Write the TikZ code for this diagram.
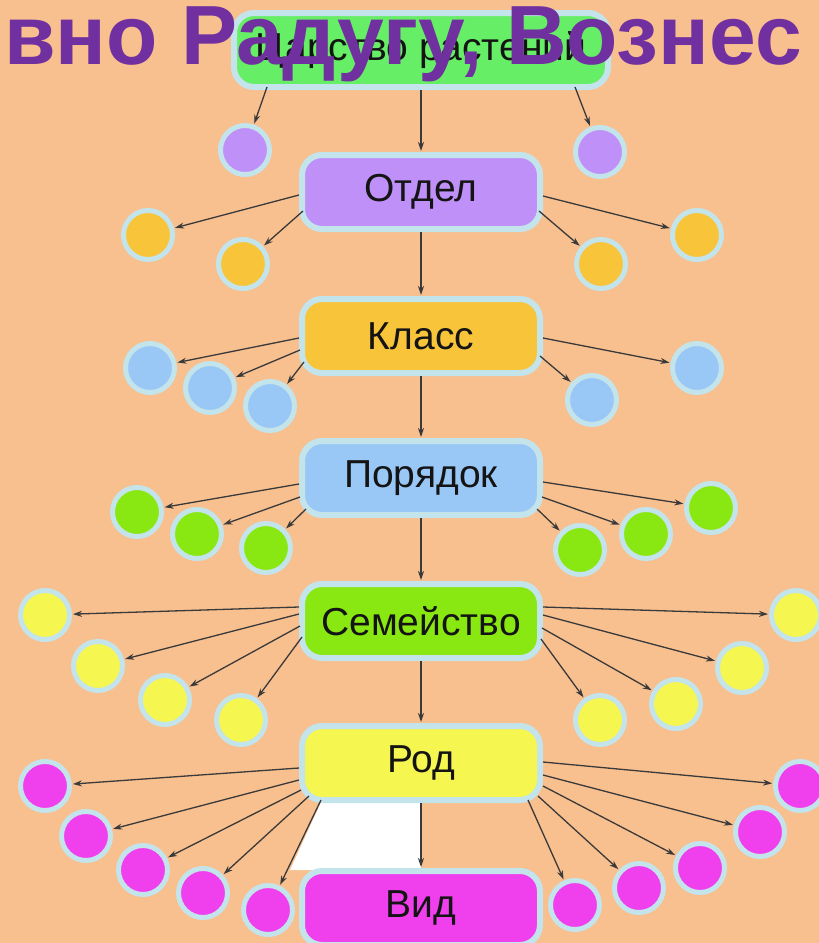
\documentclass[tikz,border=0pt]{standalone}
\usepackage{fontspec}
\setmainfont{Liberation Sans}
\usetikzlibrary{arrows.meta}
\definecolor{bg}{HTML}{F8BF8F}
\definecolor{rim}{HTML}{C4E4EC}
\definecolor{ln}{HTML}{3A3A3A}
\definecolor{txt}{HTML}{141414}
\definecolor{cgreen}{HTML}{66EE66}
\definecolor{clav}{HTML}{BF90F8}
\definecolor{corange}{HTML}{F8C43A}
\definecolor{cblue}{HTML}{9AC8F6}
\definecolor{clime}{HTML}{8AE812}
\definecolor{cyel}{HTML}{F6F650}
\definecolor{cmag}{HTML}{F040EE}
\definecolor{ttl}{HTML}{7030A0}
\begin{document}
\begin{tikzpicture}[x=1pt,y=-1pt,
  box/.style={rectangle, rounded corners=20pt, minimum width=238pt, minimum height=74pt, draw=rim, line width=6pt, font=\fontsize{39}{44}\selectfont, text=txt, inner sep=0pt},
  dot/.style={circle, minimum size=49pt, inner sep=0pt, draw=rim, line width=5pt},
  arr/.style={draw=ln, line width=1.3pt, -{Stealth[length=9pt,width=6pt]}, shorten >=1pt}
]
\useasboundingbox (0,0) rectangle (819,943);
\fill[bg] (0,0) rectangle (819,943);
\begin{scope}
\clip (0,0) rectangle (819,943);
% white patch between Rod and Vid
\fill[white] (322,800) -- (421,800) -- (421,870) -- (290,870) -- cycle;

% boxes
\node[box, fill=cgreen, minimum width=374pt] (tsar) at (421,50) {Царство растений};
\node[box, fill=clav] (otdel) at (421,192) {Отдел};
\node[box, fill=corange] (klass) at (421,336) {Класс};
\node[box, fill=cblue] (poryadok) at (421,478) {Порядок};
\node[box, fill=clime] (semeistvo) at (421,621) {Семейство};
\node[box, fill=cyel] (rod) at (421,763) {Род};
\node[box, fill=cmag] (vid) at (421,908) {Вид};

% circles level 1
\node[dot, fill=clav] (c1a) at (245,150) {};
\node[dot, fill=clav] (c1b) at (600,152) {};
% level 2
\node[dot, fill=corange] (c2a) at (148,235) {};
\node[dot, fill=corange] (c2b) at (243,264) {};
\node[dot, fill=corange] (c2c) at (601,264) {};
\node[dot, fill=corange] (c2d) at (697,235) {};
% level 3
\node[dot, fill=cblue] (c3a) at (150,368) {};
\node[dot, fill=cblue] (c3b) at (210,388) {};
\node[dot, fill=cblue] (c3c) at (270,406) {};
\node[dot, fill=cblue] (c3d) at (592,400) {};
\node[dot, fill=cblue] (c3e) at (697,368) {};
% level 4
\node[dot, fill=clime] (c4a) at (137,512) {};
\node[dot, fill=clime] (c4b) at (197,534) {};
\node[dot, fill=clime] (c4c) at (266,548) {};
\node[dot, fill=clime] (c4d) at (580,550) {};
\node[dot, fill=clime] (c4e) at (646,534) {};
\node[dot, fill=clime] (c4f) at (711,508) {};
% level 5
\node[dot, fill=cyel] (c5a) at (45,615) {};
\node[dot, fill=cyel] (c5b) at (98,666) {};
\node[dot, fill=cyel] (c5c) at (165,700) {};
\node[dot, fill=cyel] (c5d) at (241,720) {};
\node[dot, fill=cyel] (c5e) at (600,720) {};
\node[dot, fill=cyel] (c5f) at (676,704) {};
\node[dot, fill=cyel] (c5g) at (742,668) {};
\node[dot, fill=cyel] (c5h) at (796,615) {};
% level 6
\node[dot, fill=cmag] (c6a) at (45,786) {};
\node[dot, fill=cmag] (c6b) at (86,836) {};
\node[dot, fill=cmag] (c6c) at (143,870) {};
\node[dot, fill=cmag] (c6d) at (203,893) {};
\node[dot, fill=cmag] (c6e) at (268,910) {};
\node[dot, fill=cmag] (c6f) at (575,905) {};
\node[dot, fill=cmag] (c6g) at (639,888) {};
\node[dot, fill=cmag] (c6h) at (700,868) {};
\node[dot, fill=cmag] (c6i) at (760,832) {};
\node[dot, fill=cmag] (c6j) at (800,786) {};

% vertical chain
\draw[arr] (tsar) -- (otdel);
\draw[arr] (otdel) -- (klass);
\draw[arr] (klass) -- (poryadok);
\draw[arr] (poryadok) -- (semeistvo);
\draw[arr] (semeistvo) -- (rod);
\draw[arr] (rod) -- (vid);

% from top box
\draw[arr] ([xshift=36pt,yshift=3pt]tsar.south west) -- (c1a);
\draw[arr] ([xshift=-36pt,yshift=3pt]tsar.south east) -- (c1b);
% from Otdel
\draw[arr] ([yshift=-3pt]otdel.west) -- (c2a);
\draw[arr] ([xshift=4pt,yshift=-19pt]otdel.west) -- (c2b);
\draw[arr] ([xshift=-4pt,yshift=-19pt]otdel.east) -- (c2c);
\draw[arr] ([yshift=-4pt]otdel.east) -- (c2d);
% from Klass
\draw[arr] ([yshift=-2pt]klass.west) -- (c3a);
\draw[arr] ([xshift=1pt,yshift=-14pt]klass.west) -- (c3b);
\draw[arr] ([xshift=5pt,yshift=-26pt]klass.west) -- (c3c);
\draw[arr] ([xshift=-3pt,yshift=-20pt]klass.east) -- (c3d);
\draw[arr] ([yshift=-2pt]klass.east) -- (c3e);
% from Poryadok
\draw[arr] ([yshift=-6pt]poryadok.west) -- (c4a);
\draw[arr] ([xshift=1pt,yshift=-19pt]poryadok.west) -- (c4b);
\draw[arr] ([xshift=7pt,yshift=-31pt]poryadok.west) -- (c4c);
\draw[arr] ([xshift=-6pt,yshift=-31pt]poryadok.east) -- (c4d);
\draw[arr] ([xshift=-1pt,yshift=-19pt]poryadok.east) -- (c4e);
\draw[arr] ([yshift=-4pt]poryadok.east) -- (c4f);
% from Semeistvo
\draw[arr] ([yshift=14pt]semeistvo.west) -- (c5a);
\draw[arr] ([yshift=7pt]semeistvo.west) -- (c5b);
\draw[arr] ([xshift=1pt,yshift=-5pt]semeistvo.west) -- (c5c);
\draw[arr] ([xshift=3pt,yshift=-16pt]semeistvo.west) -- (c5d);
\draw[arr] ([xshift=-2pt,yshift=-18pt]semeistvo.east) -- (c5e);
\draw[arr] ([xshift=-1pt,yshift=-7pt]semeistvo.east) -- (c5f);
\draw[arr] ([yshift=6pt]semeistvo.east) -- (c5g);
\draw[arr] ([yshift=14pt]semeistvo.east) -- (c5h);
% from Rod
\draw[arr] ([yshift=-5pt]rod.west) -- (c6a);
\draw[arr] ([yshift=-17pt]rod.west) -- (c6b);
\draw[arr] ([xshift=2pt,yshift=-27pt]rod.west) -- (c6c);
\draw[arr] ([xshift=10pt,yshift=-33pt]rod.west) -- (c6d);
\draw[arr] ([xshift=22pt,yshift=-37pt]rod.west) -- (c6e);
\draw[arr] ([xshift=-15pt,yshift=-37pt]rod.east) -- (c6f);
\draw[arr] ([xshift=-5pt,yshift=-33pt]rod.east) -- (c6g);
\draw[arr] ([yshift=-23pt]rod.east) -- (c6h);
\draw[arr] ([yshift=-12pt]rod.east) -- (c6i);
\draw[arr] ([yshift=1pt]rod.east) -- (c6j);

% overlay title
\node[anchor=base west, inner sep=0pt, text=ttl, font=\fontsize{84}{95}\selectfont\bfseries] (title) at (4,64) {вно Радугу, Вознес};
\end{scope}
\end{tikzpicture}
\end{document}
